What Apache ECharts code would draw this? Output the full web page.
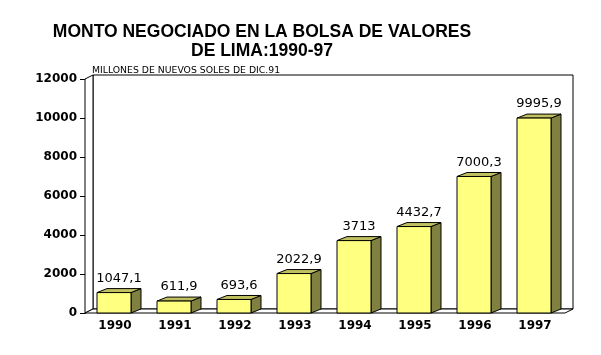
<!DOCTYPE html>
<html>
<head>
<meta charset="utf-8">
<script src="https://cdn.jsdelivr.net/npm/echarts@6/dist/echarts.min.js"></script>
<style>html,body{margin:0;padding:0;background:#fff;}#c{width:601px;height:355px;}</style>
</head>
<body>
<div id="c"></div>
<script>
var categories = ['1990', '1991', '1992', '1993', '1994', '1995', '1996', '1997'];
var values = [1047.1, 611.9, 693.6, 2022.9, 3713, 4432.7, 7000.3, 9995.9];
var yTicks = [0, 2000, 4000, 6000, 8000, 10000, 12000];
var titleLines = ['MONTO NEGOCIADO EN LA BOLSA DE VALORES', 'DE LIMA:1990-97'];
var unitText = 'MILLONES DE NUEVOS SOLES DE DIC.91';

var chart = echarts.init(document.getElementById('c'), null, {renderer: 'canvas'});

var WALL_DX = 8, WALL_DY = 4;
var BAR_DX = 10, BAR_DY = 4;

function fmt(v) { return String(v).replace('.', ','); }

var option = {
  backgroundColor: '#fff',
  animation: false,
  title: [{
    text: titleLines.join('\n'),
    left: 257, top: 18, textAlign: 'center',
    textStyle: {fontFamily: 'Liberation Sans', fontWeight: 'bold', fontSize: 17.5, lineHeight: 19, color: '#000'}
  }, {
    text: unitText,
    left: 87, top: 61,
    textStyle: {fontFamily: 'DejaVu Sans', fontWeight: 'normal', fontSize: 9.3, color: '#000'}
  }],
  grid: {left: 85, right: 36, top: 79, bottom: 42, containLabel: false},
  xAxis: {
    type: 'category', data: categories,
    axisLine: {show: false}, axisTick: {show: false},
    axisLabel: {margin: 7, fontFamily: 'DejaVu Sans', fontWeight: 'bold', fontSize: 12, color: '#000'},
    splitLine: {show: false}
  },
  yAxis: {
    type: 'value', min: yTicks[0], max: yTicks[yTicks.length - 1], interval: yTicks[1] - yTicks[0],
    axisLine: {show: true, lineStyle: {color: '#000', width: 1}},
    axisTick: {show: true, length: 5, lineStyle: {color: '#000'}},
    axisLabel: {margin: 8, fontFamily: 'DejaVu Sans', fontWeight: 'bold', fontSize: 12, color: '#000',
      formatter: function (v) { return String(v); }},
    splitLine: {show: false}
  },
  series: [{
    type: 'custom', z: 1, silent: true,
    data: [0],
    renderItem: function (params, api) {
      var cs = params.coordSys;
      var x = cs.x, y = cs.y, w = cs.width, h = cs.height;
      var st = {fill: '#fff', stroke: '#000', lineWidth: 1};
      return {type: 'group', children: [
        {type: 'rect', shape: {x: x + WALL_DX, y: y - WALL_DY, width: w, height: h}, style: st},
        {type: 'polygon', shape: {points: [[x, y], [x + WALL_DX, y - WALL_DY], [x + WALL_DX, y + h - WALL_DY], [x, y + h]]}, style: st},
        {type: 'polygon', shape: {points: [[x, y + h], [x + WALL_DX, y + h - WALL_DY], [x + w + WALL_DX, y + h - WALL_DY], [x + w, y + h]]}, style: st}
      ]};
    }
  }, {
    type: 'custom', z: 5, silent: true,
    data: values.map(function (v, i) { return [i, v]; }),
    encode: {x: 0, y: 1},
    renderItem: function (params, api) {
      var idx = api.value(0), v = api.value(1);
      var top = api.coord([idx, v]);
      var base = api.coord([idx, 0]);
      var cx = top[0];
      var x0 = cx - 18, x1 = cx + 16;
      var yt = top[1], yb = base[1];
      var edge = {stroke: '#000', lineWidth: 1};
      return {type: 'group', children: [
        {type: 'polygon', shape: {points: [[x1, yt], [x1 + BAR_DX, yt - BAR_DY], [x1 + BAR_DX, yb - BAR_DY], [x1, yb]]},
          style: Object.assign({fill: '#808040'}, edge)},
        {type: 'polygon', shape: {points: [[x0, yt], [x0 + BAR_DX, yt - BAR_DY], [x1 + BAR_DX, yt - BAR_DY], [x1, yt]]},
          style: Object.assign({fill: '#C0C060'}, edge)},
        {type: 'rect', shape: {x: x0, y: yt, width: x1 - x0, height: yb - yt},
          style: Object.assign({fill: '#FFFF80'}, edge)},
        {type: 'text', x: cx + 4, y: yt - 14,
          style: {text: fmt(v), fill: '#000', font: 'normal 13px "DejaVu Sans"', align: 'center', verticalAlign: 'middle'}}
      ]};
    }
  }]
};
chart.setOption(option);
</script>
</body>
</html>
